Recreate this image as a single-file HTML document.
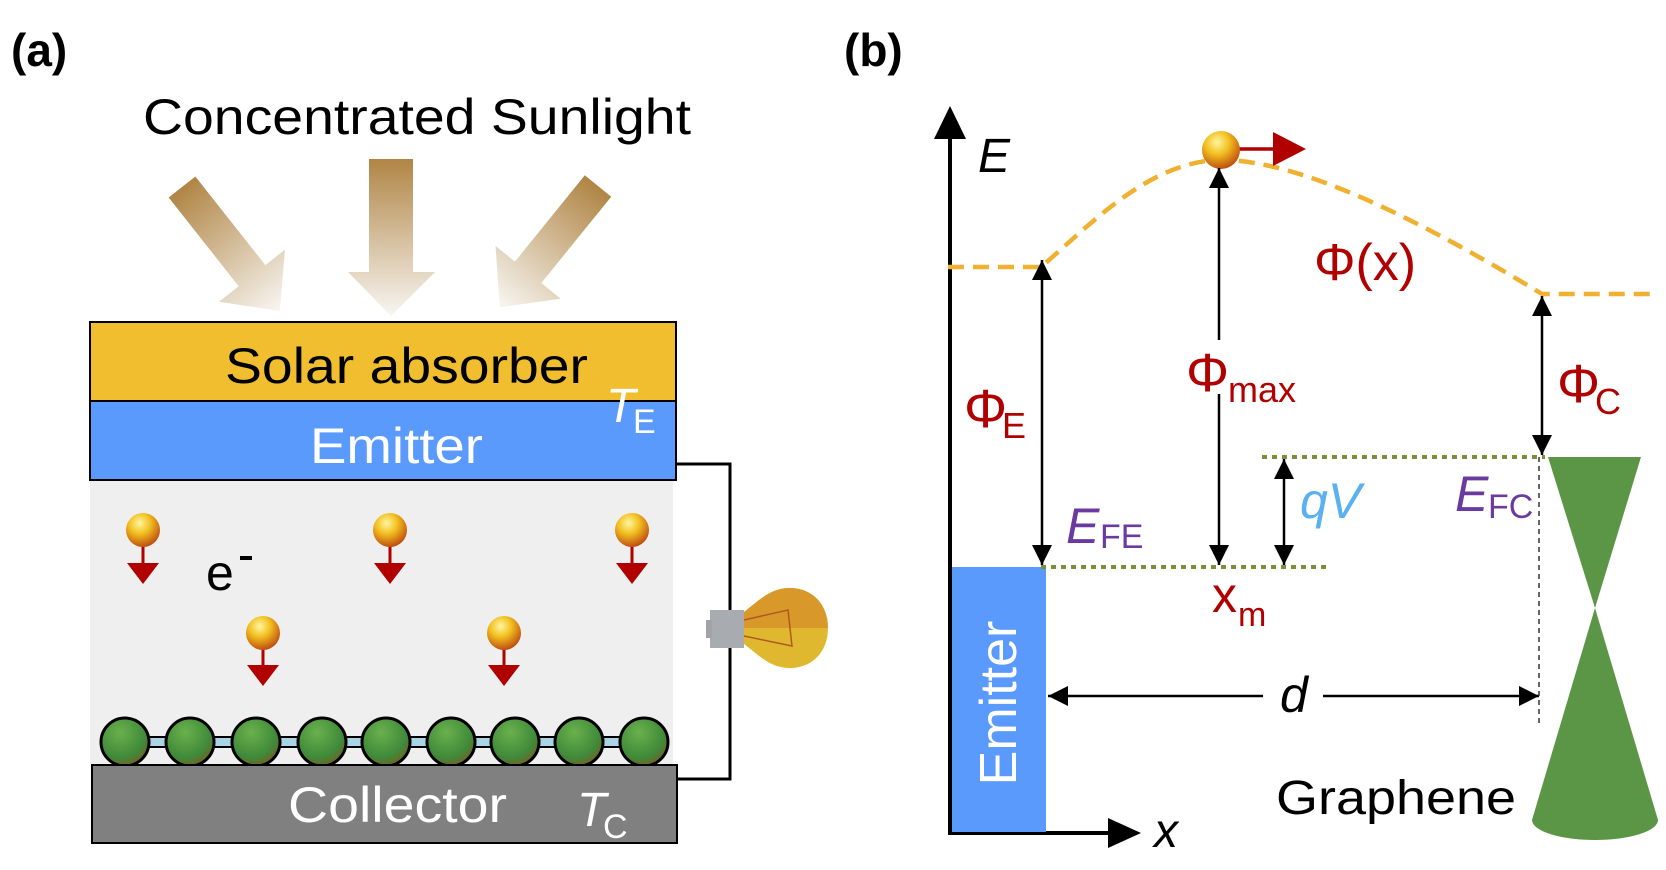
<!DOCTYPE html>
<html><head><meta charset="utf-8"><style>
html,body{margin:0;padding:0;background:#fff;}
svg{display:block;font-family:"Liberation Sans",Arial,sans-serif;}
</style></head><body>
<svg width="1666" height="870" viewBox="0 0 1666 870" xmlns="http://www.w3.org/2000/svg">
<defs>
<linearGradient id="sun" x1="0" y1="0" x2="0" y2="1">
<stop offset="0" stop-color="#b08545"/><stop offset="1" stop-color="#f8f6f2"/>
</linearGradient>
<radialGradient id="ball" cx="0.4" cy="0.3" r="0.7">
<stop offset="0" stop-color="#fff6a0"/><stop offset="0.45" stop-color="#f2c020"/><stop offset="1" stop-color="#c05010"/>
</radialGradient>
<radialGradient id="gball" cx="0.4" cy="0.3" r="0.75">
<stop offset="0" stop-color="#6ab04c"/><stop offset="0.7" stop-color="#3f8a3a"/><stop offset="1" stop-color="#7a5a20"/>
</radialGradient>
<marker id="ah2" viewBox="0 0 10 10" refX="10" refY="5" markerWidth="22" markerHeight="20" markerUnits="userSpaceOnUse" orient="auto-start-reverse">
<path d="M0,0 L10,5 L0,10 z" fill="#000"/></marker>
</defs>

<text x="11" y="66" font-size="46" font-weight="bold">(a)</text>
<text x="143" y="134" font-size="50" textLength="548" lengthAdjust="spacingAndGlyphs">Concentrated Sunlight</text>

<g fill="url(#sun)">
<polygon points="369,159 413,159 413,272 435,272 391,316 348,272 369,272"/>
<g transform="translate(182,187) rotate(-38.3)">
<polygon points="-17,0 17,0 17,113 42,113 0,158 -42,113 -17,113"/>
</g>
<g transform="translate(598,186) rotate(39)">
<polygon points="-17,0 17,0 17,111 42,111 0,156 -42,111 -17,111"/>
</g>
</g>

<rect x="90" y="480" width="583" height="284" fill="#efefef"/>
<polyline points="676,464 730,464 730,779 677,779" fill="none" stroke="#000" stroke-width="3"/>
<rect x="90" y="322" width="586" height="79" fill="#f0be2e" stroke="#000" stroke-width="2"/>
<text x="225" y="383" font-size="50" textLength="363" lengthAdjust="spacingAndGlyphs">Solar absorber</text>
<rect x="90" y="401" width="586" height="79" fill="#5a9afc" stroke="#000" stroke-width="2"/>
<text x="310" y="463" font-size="50" fill="#fff" textLength="173" lengthAdjust="spacingAndGlyphs">Emitter</text>
<text x="606" y="422" font-size="48" fill="#fff" font-style="italic">T</text>
<text x="633" y="433" font-size="34" fill="#fff">E</text>

<g>
<g stroke="#b00000" stroke-width="3">
<line x1="143" y1="545" x2="143" y2="566"/><line x1="390" y1="545" x2="390" y2="566"/><line x1="632" y1="545" x2="632" y2="566"/>
<line x1="263" y1="647" x2="263" y2="668"/><line x1="504" y1="647" x2="504" y2="668"/>
</g>
<g fill="#b00000">
<polygon points="127,563 159,563 143,584"/><polygon points="374,563 406,563 390,584"/><polygon points="616,563 648,563 632,584"/>
<polygon points="247,665 279,665 263,686"/><polygon points="488,665 520,665 504,686"/>
</g>
<g fill="url(#ball)">
<circle cx="143" cy="530" r="17"/><circle cx="390" cy="530" r="17"/><circle cx="632" cy="530" r="17"/>
<circle cx="263" cy="633" r="17"/><circle cx="504" cy="633" r="17"/>
</g>
</g>
<text x="206" y="590" font-size="50">e</text>
<rect x="240" y="556" width="12" height="4" fill="#000"/>

<rect x="125" y="737" width="519" height="10" fill="#a8d4e6" stroke="#000" stroke-width="2"/>
<g fill="url(#gball)" stroke="#000" stroke-width="3">
<circle cx="125" cy="742" r="24"/><circle cx="190" cy="742" r="24"/><circle cx="256" cy="742" r="24"/>
<circle cx="322" cy="742" r="24"/><circle cx="386" cy="742" r="24"/><circle cx="451" cy="742" r="24"/>
<circle cx="515" cy="742" r="24"/><circle cx="579" cy="742" r="24"/><circle cx="644" cy="742" r="24"/>
</g>
<rect x="92" y="765" width="585" height="78" fill="#808080" stroke="#000" stroke-width="2"/>
<text x="288" y="822" font-size="50" fill="#fff" textLength="219" lengthAdjust="spacingAndGlyphs">Collector</text>
<text x="577" y="826" font-size="48" fill="#fff" font-style="italic">T</text>
<text x="603" y="838" font-size="34" fill="#fff">C</text>

<rect x="710" y="610" width="34" height="38" fill="#a8acb0"/>
<rect x="706" y="620" width="6" height="18" fill="#a0a4a8"/>
<path d="M744,612 C760,600 770,588 790,588 C812,588 828,604 828,628 C828,652 812,668 790,668 C770,668 760,656 744,644 z" fill="#e0b830"/>
<path d="M744,612 C760,600 770,588 790,588 C812,588 828,604 828,628 L744,628 z" fill="#d8982a"/>
<path d="M744,620 L788,610 L792,646 L744,636" fill="none" stroke="#b05a20" stroke-width="1.5"/>

<text x="844" y="66" font-size="46" font-weight="bold">(b)</text>
<line x1="950" y1="130" x2="950" y2="834" stroke="#000" stroke-width="4"/>
<polygon points="934,139 966,139 950,106" fill="#000"/>
<line x1="948" y1="833" x2="1112" y2="833" stroke="#000" stroke-width="4"/>
<polygon points="1108,818 1108,848 1141,833" fill="#000"/>
<text x="978" y="172" font-size="48" font-style="italic">E</text>
<text x="1154" y="847" font-size="48" font-style="italic">x</text>

<rect x="952" y="567" width="94" height="265" fill="#5a9afc"/>
<text transform="translate(1016,703) rotate(-90)" text-anchor="middle" font-size="52" fill="#fff">Emitter</text>

<path d="M948,267 L1041,267 C1090,225 1150,160 1222,160 C1300,160 1420,220 1542,294 L1652,294" fill="none" stroke="#f0b030" stroke-width="4.5" stroke-dasharray="16,9"/>
<line x1="1236" y1="149" x2="1278" y2="149" stroke="#b00000" stroke-width="3.5"/>
<polygon points="1273,132 1273,166 1306,149" fill="#b00000"/>
<circle cx="1221" cy="150" r="19" fill="url(#ball)"/>
<text x="1314" y="280" font-size="52" fill="#b00000">Φ(x)</text>

<line x1="1041" y1="567" x2="1326" y2="567" stroke="#7a8f3a" stroke-width="4" stroke-dasharray="5,5"/>
<line x1="1262" y1="457" x2="1545" y2="457" stroke="#7a8f3a" stroke-width="4" stroke-dasharray="5,5"/>

<g stroke="#000" stroke-width="2.5" fill="none">
<line x1="1042" y1="260" x2="1042" y2="565" marker-start="url(#ah2)" marker-end="url(#ah2)"/>
<line x1="1219" y1="168" x2="1219" y2="340" marker-start="url(#ah2)"/>
<line x1="1219" y1="394" x2="1219" y2="565" marker-end="url(#ah2)"/>
<line x1="1542" y1="296" x2="1542" y2="455" marker-start="url(#ah2)" marker-end="url(#ah2)"/>
<line x1="1284" y1="459" x2="1284" y2="565" marker-start="url(#ah2)" marker-end="url(#ah2)"/>
<line x1="1048" y1="696" x2="1263" y2="696" marker-start="url(#ah2)"/>
<line x1="1323" y1="696" x2="1539" y2="696" marker-end="url(#ah2)"/>
</g>
<line x1="1539" y1="457" x2="1539" y2="724" stroke="#333" stroke-width="1.5" stroke-dasharray="5,4"/>

<text x="964" y="427" font-size="54" fill="#b00000">Φ</text>
<text x="1002" y="438" font-size="36" fill="#b00000">E</text>
<text x="1186" y="391" font-size="54" fill="#b00000">Φ</text>
<text x="1228" y="402" font-size="36" fill="#b00000">max</text>
<text x="1557" y="402" font-size="54" fill="#b00000">Φ</text>
<text x="1595" y="414" font-size="36" fill="#b00000">C</text>
<text x="1300" y="518" font-size="50" fill="#5ab0f0" font-style="italic">qV</text>
<text x="1066" y="543" font-size="50" fill="#6a3aa0" font-style="italic">E</text>
<text x="1100" y="548" font-size="34" fill="#6a3aa0">FE</text>
<text x="1455" y="511" font-size="50" fill="#6a3aa0" font-style="italic">E</text>
<text x="1488" y="518" font-size="34" fill="#6a3aa0">FC</text>
<text x="1212" y="612" font-size="50" fill="#b00000">x</text>
<text x="1238" y="626" font-size="34" fill="#b00000">m</text>
<text x="1280" y="712" font-size="50" font-style="italic">d</text>

<polygon points="1548,457 1641,457 1595,608" fill="#5a9645"/>
<path d="M1595,608 L1658,820 A63,20 0 0 1 1532,820 Z" fill="#5a9645"/>
<text x="1276" y="814" font-size="48" textLength="240" lengthAdjust="spacingAndGlyphs">Graphene</text>
</svg>
</body></html>
